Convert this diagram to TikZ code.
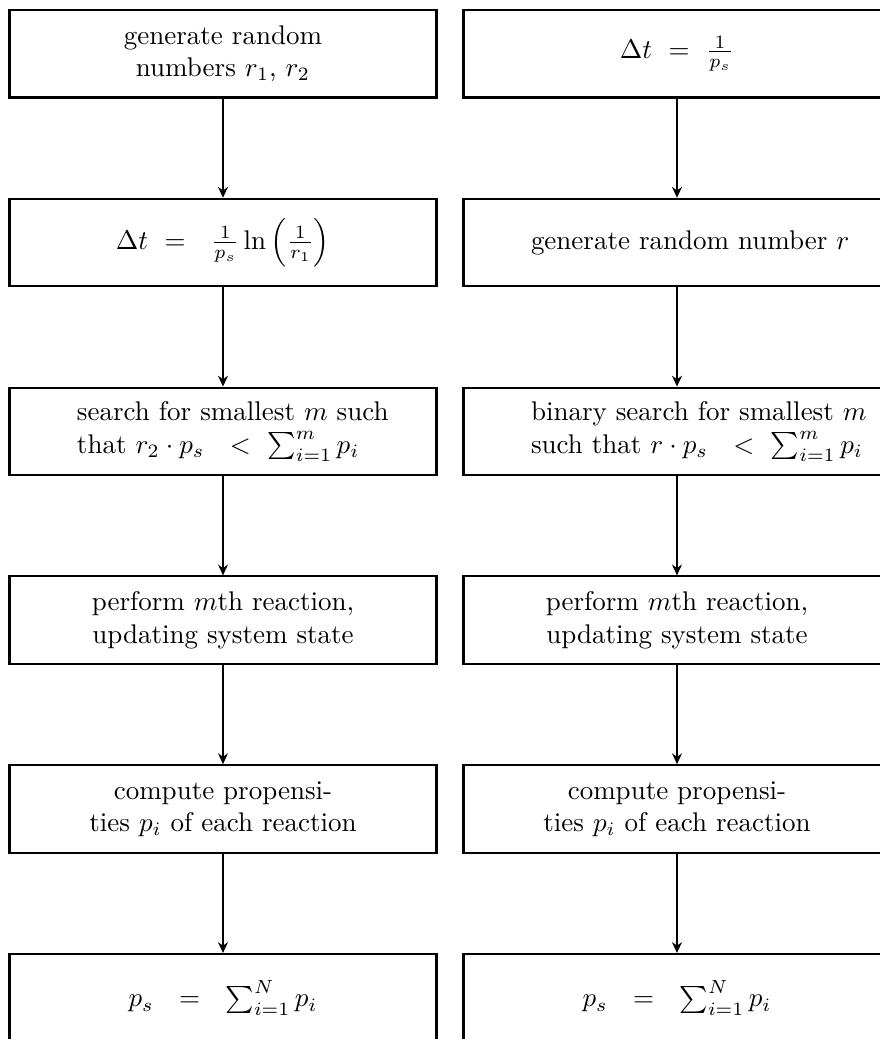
\documentclass[tikz,border=0pt]{standalone}
\usetikzlibrary{arrows.meta}
\def\px{0.3704pt}
\tikzset{
  stepbox/.style={draw, line width=0.8pt, rectangle, inner sep=0pt,
    minimum width=427*\px, minimum height=87.5*\px, align=center},
  % text block that starts at the left of a narrower column and runs past it
  leftrun/.style={text width=292*\px, align=left},
  flow/.style={line width=0.45pt, -{Stealth[length=4pt,width=3.7pt,inset=1.3pt]}}
}
\begin{document}
\begin{tikzpicture}[x=\px, y=-\px]
\useasboundingbox (0,0) rectangle (880,1039);
\clip (0,0) rectangle (880,1039);
% left column: direct method
\node[stepbox] (l1) at (223,53.75) {generate random\\ numbers $r_1$, $r_2$};
\node[stepbox] (l2) at (223,242.55) {$\Delta t\ =\ \ \frac{1}{p_s}\ln\left(\frac{1}{r_1}\right)$};
\node[stepbox, leftrun] (l3) at (223,431.35) {\mbox{search for smallest $m$ such}\\ \mbox{that $r_2\cdot p_s\ \ <\ \sum_{i=1}^{m} p_i$}};
\node[stepbox] (l4) at (223,620.15) {perform $m$th reaction,\\ updating system state};
\node[stepbox] (l5) at (223,808.95) {compute propensi-\\ ties $p_i$ of each reaction};
\node[stepbox] (l6) at (223,997.75) {$p_s\ \ =\ \ \sum_{i=1}^{N} p_i$};
% right column: fixed-step variant
\node[stepbox] (r1) at (677,53.75) {$\Delta t\ =\ \frac{1}{p_s}$};
\node[stepbox, leftrun] (r2) at (677,242.55) {\mbox{generate random number $r$}};
\node[stepbox, leftrun] (r3) at (677,431.35) {\mbox{binary search for smallest $m$}\\ \mbox{such that $r\cdot p_s\ \ <\ \sum_{i=1}^{m} p_i$}};
\node[stepbox] (r4) at (677,620.15) {perform $m$th reaction,\\ updating system state};
\node[stepbox] (r5) at (677,808.95) {compute propensi-\\ ties $p_i$ of each reaction};
\node[stepbox] (r6) at (677,997.75) {$p_s\ \ =\ \ \sum_{i=1}^{N} p_i$};
% connectors
\foreach \c in {l,r}{
  \foreach \a/\b in {1/2,2/3,3/4,4/5,5/6}{
    \draw[flow] (\c\a.south) -- (\c\b.north);
  }
}
\end{tikzpicture}
\end{document}
